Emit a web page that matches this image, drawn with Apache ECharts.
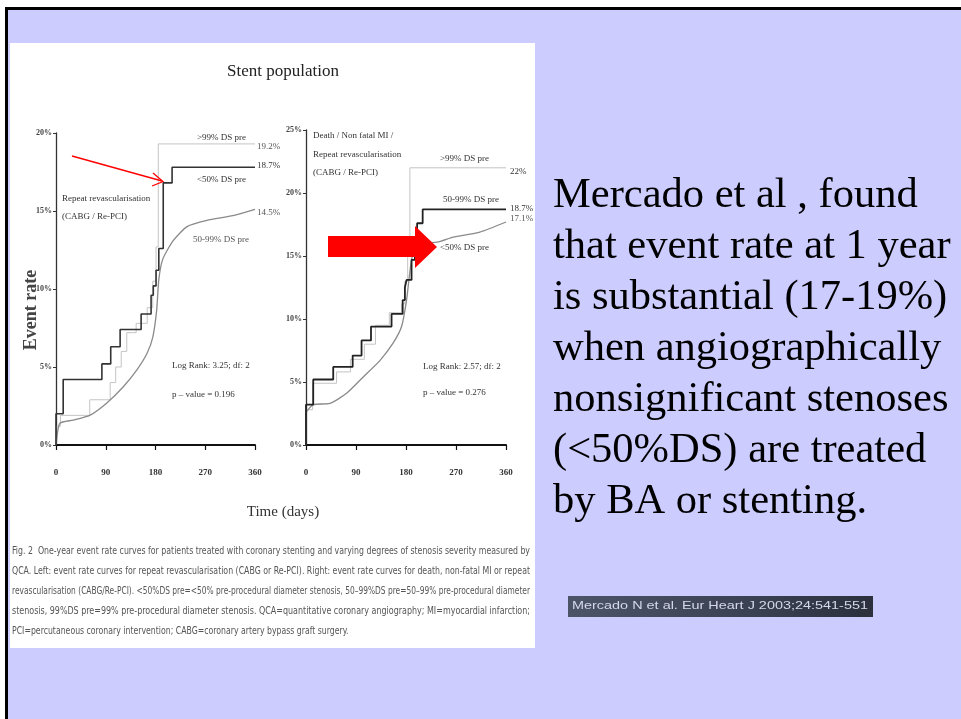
<!DOCTYPE html>
<html><head><meta charset="utf-8">
<script src="https://cdn.jsdelivr.net/npm/echarts@6/dist/echarts.min.js"></script>
<style>
html,body{margin:0;padding:0;background:#ffffff;overflow:hidden;}
#slide{position:absolute;left:5px;top:7px;width:960px;height:720px;background:#ccccff;border-left:3px solid #000;border-top:3px solid #000;box-sizing:border-box;}
#panel{position:absolute;left:10px;top:43px;width:525px;height:605px;background:#ffffff;}
#cite{position:absolute;left:568px;top:596px;width:305px;height:21px;background:linear-gradient(90deg,#4c5468,#3a4152 60%,#2b303c);}
#c{position:absolute;left:0;top:0;width:961px;height:719px;}
</style>
</head><body>
<div id="slide"></div><div id="panel"></div><div id="cite"></div>
<div id="c"></div>
<script>
// ---- data (day, event rate %) ----
const xTicks = [0, 90, 180, 270, 360];
// Left panel: repeat revascularisation (CABG / Re-PCI)
const leftBelow50 = [[0,0],[0,2.0],[13,4.2],[83,5.2],[99,6.3],[116,7.4],[154,8.4],[172,9.6],[176,10.2],[181,11.2],[186,12.6],[194,16.8],[210,17.8],[360,17.8]];
const leftAbove99 = [[0,0],[0,1.2],[8,1.9],[61,2.9],[98,4.0],[108,5.0],[118,6.0],[128,7.2],[145,7.8],[165,8.8],[175,10.5],[181,12.7],[185,19.3],[360,19.3]];
const left50to99 = [[0,0],[2,0.6],[7,1.4],[31,1.6],[61,1.9],[92,2.7],[121,3.7],[146,4.8],[165,5.9],[175,6.9],[182,8.6],[186,10.6],[193,11.9],[212,13.1],[237,14.0],[273,14.4],[320,14.7],[360,15.1]];
// Right panel: death / non fatal MI / repeat revascularisation
const right50to99 = [[0,0],[0,3.2],[13,5.2],[49,6.2],[84,7.1],[100,8.3],[117,9.4],[154,10.4],[174,11.5],[178,12.5],[181,13.1],[190,14.7],[196,16.5],[200,17.6],[210,18.7],[360,18.7]];
const rightAbove99 = [[0,0],[0,2.8],[12,4.9],[55,5.8],[80,6.8],[105,8.0],[125,9.5],[150,10.5],[172,11.2],[178,13.0],[183,16.5],[187,22.0],[360,22.0]];
const rightBelow50 = [[0,0],[0,2.5],[13,3.2],[43,3.3],[73,4.1],[103,5.4],[133,6.7],[157,8.1],[172,9.4],[181,11.5],[189,14.4],[199,16.0],[236,16.1],[265,16.5],[313,16.9],[360,17.7]];

const captionLines = [
 'Fig. 2  One-year event rate curves for patients treated with coronary stenting and varying degrees of stenosis severity measured by',
 'QCA. Left: event rate curves for repeat revascularisation (CABG or Re-PCI). Right: event rate curves for death, non-fatal MI or repeat',
 'revascularisation (CABG/Re-PCI). <50%DS pre=<50% pre-procedural diameter stenosis, 50\u201399%DS pre=50\u201399% pre-procedural diameter',
 'stenosis, 99%DS pre=99% pre-procedural diameter stenosis. QCA=quantitative coronary angiography; MI=myocardial infarction;',
 'PCI=percutaneous coronary intervention; CABG=coronary artery bypass graft surgery.'
];
const bodyLines = [
 'Mercado et al , found',
 'that event rate at 1 year',
 'is substantial (17-19%)',
 'when angiographically',
 'nonsignificant stenoses',
 '(<50%DS) are treated',
 'by BA or stenting.'
];
const citation = 'Mercado N et al. Eur Heart J 2003;24:541-551';

const serif = '"Liberation Serif","Times New Roman",serif';
const narrow = '"Liberation Sans Narrow","DejaVu Sans Condensed","Liberation Sans",sans-serif';
const sans = '"Liberation Sans",Arial,sans-serif';

const mctx = document.createElement('canvas').getContext('2d');
function measure(text, font) { mctx.font = font; return mctx.measureText(text).width; }

function T(x, y, text, size, opts) {
  opts = opts || {};
  return {
    type: 'text', x: x, y: y, z: 100, rotation: opts.rotation || 0,
    scaleX: opts.scaleX || 1,
    style: {
      text: text, fill: opts.fill || '#333',
      font: (opts.weight || 'normal') + ' ' + size + 'px ' + (opts.family || serif),
      align: opts.align || 'left', verticalAlign: opts.valign || 'middle'
    }
  };
}

const graphics = [];
graphics.push(T(283, 72, 'Stent population', 17, {align: 'center', fill: '#222'}));
graphics.push(T(31, 310, 'Event rate', 18, {align: 'center', rotation: Math.PI / 2, weight: 'bold', fill: '#444'}));
graphics.push(T(283, 512, 'Time (days)', 15, {align: 'center', fill: '#333'}));
// left annotations
graphics.push(T(197, 138, '>99% DS pre', 9));
graphics.push(T(257, 147, '19.2%', 9, {fill: '#555'}));
graphics.push(T(257, 166, '18.7%', 9));
graphics.push(T(197, 180, '<50% DS pre', 9));
graphics.push(T(257, 213, '14.5%', 9, {fill: '#555'}));
graphics.push(T(193, 240, '50-99% DS pre', 9, {fill: '#555'}));
graphics.push(T(62, 199, 'Repeat revascularisation', 9));
graphics.push(T(62, 217, '(CABG / Re-PCI)', 9));
graphics.push(T(172, 366, 'Log Rank: 3.25; df: 2', 9));
graphics.push(T(172, 395, 'p \u2013 value = 0.196', 9));
// right annotations
graphics.push(T(313, 136, 'Death / Non fatal MI /', 9));
graphics.push(T(313, 155, 'Repeat revascularisation', 9));
graphics.push(T(313, 173, '(CABG / Re-PCI)', 9));
graphics.push(T(440, 159, '>99% DS pre', 9));
graphics.push(T(510, 172, '22%', 9));
graphics.push(T(443, 200, '50-99% DS pre', 9));
graphics.push(T(510, 209, '18.7%', 9));
graphics.push(T(510, 219, '17.1%', 9, {fill: '#555'}));
graphics.push(T(440, 248, '<50% DS pre', 9));
graphics.push(T(423, 367, 'Log Rank: 2.57; df: 2', 9));
graphics.push(T(423, 393, 'p \u2013 value = 0.276', 9));
// caption (justified to panel width)
const capSize = 9.6, capFont = 'normal ' + capSize + 'px ' + narrow;
let scSum = 0;
captionLines.forEach(function (s, i) {
  let sc;
  if (i < captionLines.length - 1) { sc = 518 / measure(s, capFont); scSum += sc; }
  else { sc = scSum / (captionLines.length - 1); }
  graphics.push(T(12, 551 + i * 20, s, capSize, {family: narrow, fill: '#555', scaleX: sc}));
});
// body text
bodyLines.forEach(function (s, i) {
  graphics.push(T(553, 196 + i * 51, s, 42.5, {fill: '#000'}));
});
// citation
const citeFont = 'normal 11px ' + sans;
graphics.push(T(572, 606, citation, 11, {family: sans, fill: '#d4d8ea', scaleX: 296 / measure(citation, citeFont)}));
// red arrows
graphics.push({type: 'line', z: 110, shape: {x1: 72, y1: 156, x2: 162, y2: 181}, style: {stroke: '#ff0000', lineWidth: 1.3}});
graphics.push({type: 'polyline', z: 110, shape: {points: [[153, 173], [163, 181.5], [152, 186]]}, style: {stroke: '#ff0000', lineWidth: 1.3, fill: null}});
graphics.push({type: 'polygon', z: 110, shape: {points: [[328, 236], [415, 236], [415, 226], [437, 247], [415, 268], [415, 257], [328, 257]]}, style: {fill: '#ff0000'}});

function lineSeries(data, xi, color, width, step, smooth) {
  return {
    type: 'line', xAxisIndex: xi, yAxisIndex: xi, data: data,
    step: step ? 'end' : false, smooth: smooth ? 0.2 : false,
    showSymbol: false, symbol: 'none', silent: true,
    lineStyle: {color: color, width: width}
  };
}

function xAx(gi) {
  return {
    type: 'value', gridIndex: gi, min: xTicks[0], max: xTicks[xTicks.length - 1], interval: xTicks[1] - xTicks[0],
    axisLine: {show: true, onZero: false, lineStyle: {color: '#111', width: 2}},
    axisTick: {show: true, length: 5, inside: false, lineStyle: {color: '#111', width: 1.2}},
    axisLabel: {margin: 23, fontFamily: serif, fontWeight: 'bold', fontSize: 9, color: '#333'},
    splitLine: {show: false}
  };
}
function yAx(gi, max) {
  return {
    type: 'value', gridIndex: gi, min: 0, max: max, interval: 5,
    axisLine: {show: true, lineStyle: {color: '#333', width: 1.3}},
    axisTick: {show: true, length: 3, lineStyle: {color: '#333'}},
    axisLabel: {margin: 4, fontFamily: serif, fontWeight: 'bold', fontSize: 8, color: '#444', formatter: '{value}%'},
    splitLine: {show: false}
  };
}

const chart = echarts.init(document.getElementById('c'), null, {renderer: 'canvas'});
chart.setOption({
  animation: false,
  backgroundColor: 'transparent',
  grid: [
    {left: 56, top: 133, width: 199, height: 312},
    {left: 306, top: 130, width: 200, height: 315}
  ],
  xAxis: [xAx(0), xAx(1)],
  yAxis: [yAx(0, 20), yAx(1, 25)],
  series: [
    lineSeries(leftAbove99, 0, '#c4c4c4', 1, true),
    lineSeries(left50to99, 0, '#8a8a8a', 1.3, false, true),
    lineSeries(leftBelow50, 0, '#333333', 1.6, true),
    lineSeries(rightAbove99, 1, '#c4c4c4', 1, true),
    lineSeries(rightBelow50, 1, '#8a8a8a', 1.3, false, true),
    lineSeries(right50to99, 1, '#222222', 1.8, true)
  ],
  graphic: graphics
});
</script>
</body></html>
